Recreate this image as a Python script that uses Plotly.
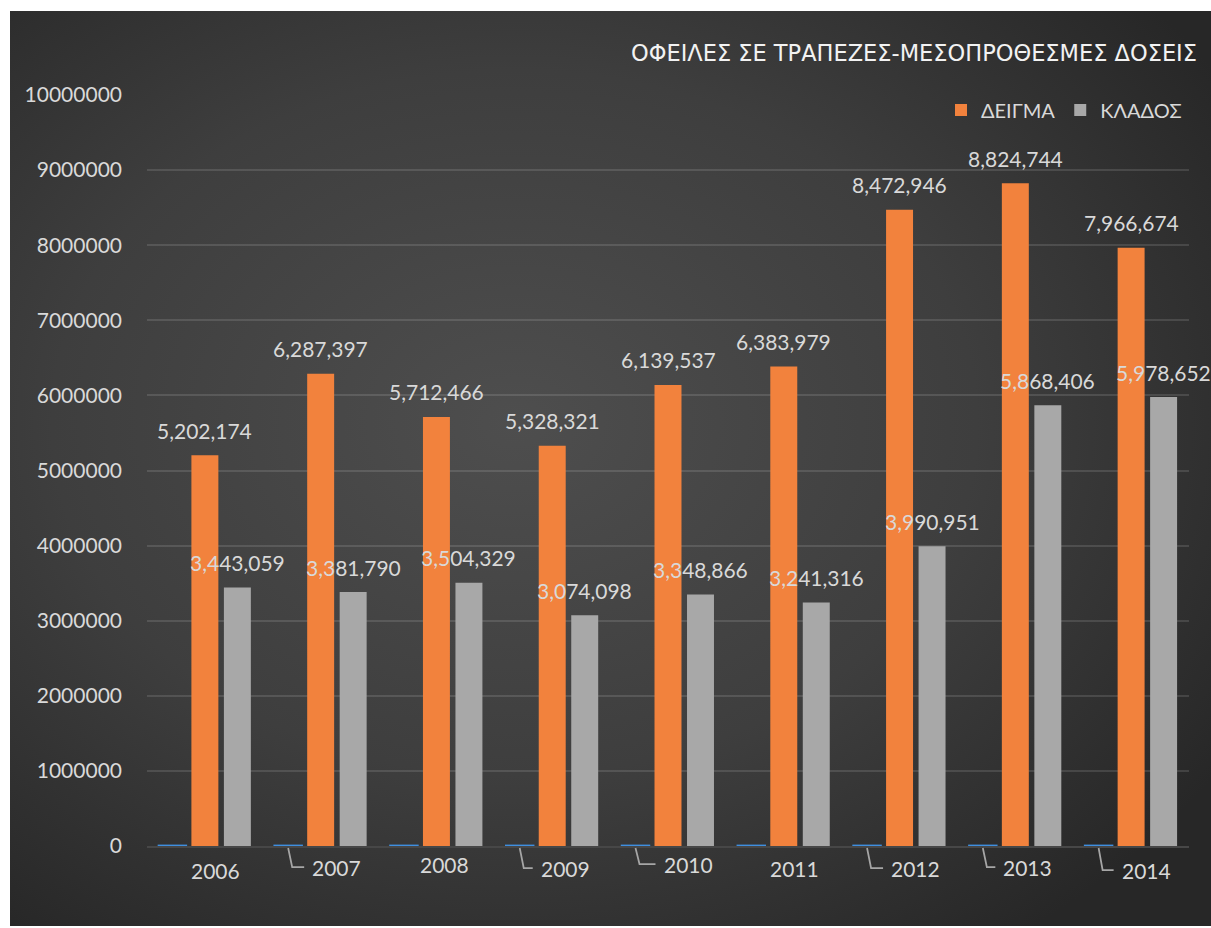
import base64
import plotly.graph_objects as go

# ---------------- data ----------------
years = ["2006", "2007", "2008", "2009", "2010", "2011", "2012", "2013", "2014"]
year_series = [2006, 2007, 2008, 2009, 2010, 2011, 2012, 2013, 2014]
deigma = [5202174, 6287397, 5712466, 5328321, 6139537, 6383979, 8472946, 8824744, 7966674]
klados = [3443059, 3381790, 3504329, 3074098, 3348866, 3241316, 3990951, 5868406, 5978652]
y_ticks = [0, 1000000, 2000000, 3000000, 4000000, 5000000, 6000000, 7000000, 8000000, 9000000, 10000000]
series_names = ["ΔΕΙΓΜΑ", "ΚΛΑΔΟΣ"]
title_text = "ΟΦΕΙΛΕΣ ΣΕ ΤΡΑΠΕΖΕΣ-ΜΕΣΟΠΡΟΘΕΣΜΕΣ ΔΟΣΕΙΣ"

# ---------------- style ----------------
W, H = 1211, 928
ML, MR, MT, MB = 147, 22, 95, 82
PW, PH = W - ML - MR, H - MT - MB
FONT = "Lato, 'Open Sans', 'Noto Sans', sans-serif"
TXT = "#d9d9d9"
ORANGE = "#F2823D"
GRAY = "#A8A8A8"
BLUE = "#3F8FE0"
PITCH = 32.5  # px between bar centres inside a group
N = len(years)

# year-label placement (pixel offsets from category centre / below axis) and leader flags
label_dx = [11, 16, 8.5, 13, 20, 11, 16, 12.5, 15]
label_dy = [24, 21, 18, 22, 18, 22, 22, 21, 24]
leader = [False, True, False, True, True, False, True, True, True]

# radial-gradient background (dark chart area)
bg_left, bg_right, bg_top, bg_bottom = 10, 1211, 11, 926
svg = f"""<svg xmlns='http://www.w3.org/2000/svg' width='{bg_right-bg_left}' height='{bg_bottom-bg_top}' preserveAspectRatio='none'>
<defs><radialGradient id='g' cx='0.42' cy='0.45' r='0.7'>
<stop offset='0' stop-color='#4e4e4e'/><stop offset='0.55' stop-color='#3e3e3e'/><stop offset='1' stop-color='#272727'/>
</radialGradient></defs>
<rect width='100%' height='100%' fill='url(#g)'/></svg>"""
svg_uri = "data:image/svg+xml;base64," + base64.b64encode(svg.encode()).decode()

fig = go.Figure()

fig.add_trace(go.Bar(
    x=years, y=year_series, name="ΕΤΟΣ", showlegend=False, hoverinfo="skip",
    marker=dict(color=BLUE, line=dict(color=BLUE, width=2.5)),
))
fig.add_trace(go.Bar(
    x=years, y=deigma, name=series_names[0], hoverinfo="skip",
    marker=dict(color=ORANGE, line=dict(width=0)),
))
fig.add_trace(go.Bar(
    x=years, y=klados, name=series_names[1], hoverinfo="skip",
    marker=dict(color=GRAY, line=dict(width=0)),
))

annotations = []
# data labels for ΔΕΙΓΜΑ and ΚΛΑΔΟΣ (x given as category index)
for vals, shift in ((deigma, 0), (klados, PITCH)):
    for i, v in enumerate(vals):
        annotations.append(dict(
            x=i, y=v, xref="x", yref="y", text=f"{v:,}", showarrow=False,
            xshift=shift, yshift=25, yanchor="middle", xanchor="center",
            font=dict(family=FONT, size=21, color=TXT),
        ))
# data labels of the year series (they act as the category labels)
shapes = []
for i, v in enumerate(year_series):
    dx, dy = label_dx[i], label_dy[i]
    annotations.append(dict(
        x=i, y=0, xref="x", yref="y", text=str(v), showarrow=False,
        xshift=dx, yshift=-dy, yanchor="middle", xanchor="center",
        font=dict(family=FONT, size=21, color=TXT),
    ))
    if leader[i]:
        sx = -PITCH
        ex = dx - 24 - 8.5
        path = f"M {sx},-2 L {sx+4},{-dy} L {ex},{-dy}"
        shapes.append(dict(
            type="path", xref="paper", yref="paper", xsizemode="pixel", ysizemode="pixel",
            xanchor=(i + 0.5) / N, yanchor=0, path=path,
            line=dict(color="#a6a6a6", width=1.75), layer="above",
        ))

fig.update_layout(
    width=W, height=H,
    margin=dict(l=ML, r=MR, t=MT, b=MB, pad=0),
    paper_bgcolor="white",
    plot_bgcolor="rgba(0,0,0,0)",
    barmode="group", bargap=0.158, bargroupgap=0.17,
    title=dict(
        text=title_text, xref="container", yref="container",
        x=914 / W, xanchor="center", y=1 - 53 / H, yanchor="middle",
        font=dict(family="DejaVu Sans", size=22.5, color="#f2f2f2"),
    ),
    legend=dict(
        orientation="h", x=(1187 - ML) / PW, xanchor="right",
        y=(846 - 110) / PH, yanchor="middle",
        bgcolor="rgba(0,0,0,0)", font=dict(family=FONT, size=20, color=TXT),
        itemwidth=30, traceorder="normal",
    ),
    xaxis=dict(
        type="category", categoryorder="array", categoryarray=years,
        range=[-0.5, N - 0.5], autorange=False, layer="below traces",
        showticklabels=False, showgrid=False, ticks="",
        showline=True, linecolor="#474747", linewidth=1.5, zeroline=False,
    ),
    yaxis=dict(
        range=[0, 10000000], tickvals=y_ticks, tickformat="d", layer="below traces",
        showgrid=True, gridcolor="rgba(255,255,255,0.12)", gridwidth=1.5,
        zeroline=False, showline=False, ticks="", ticklabelstandoff=24,
        tickfont=dict(family=FONT, size=21, color=TXT),
    ),
    annotations=annotations,
    shapes=shapes,
    images=[dict(
        source=svg_uri, xref="paper", yref="paper",
        x=(bg_left - ML) / PW, y=(846 - bg_top) / PH,
        sizex=(bg_right - bg_left) / PW, sizey=(bg_bottom - bg_top) / PH,
        xanchor="left", yanchor="top", sizing="stretch", layer="below",
    )],
    showlegend=True,
)

fig.write_html("out.html", config={"displayModeBar": False},
               post_script="document.body.style.margin='0';")
